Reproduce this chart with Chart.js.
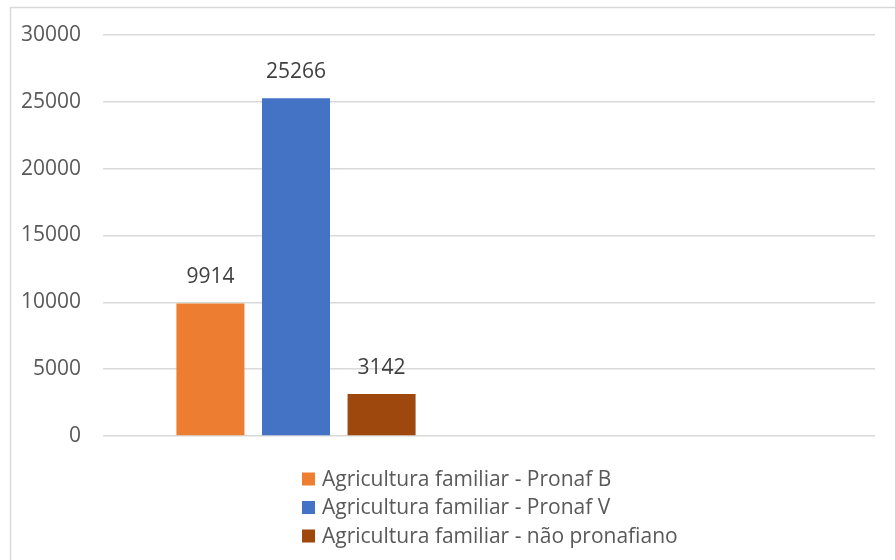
<!DOCTYPE html>
<html>
<head>
<meta charset="utf-8">
<script src="https://cdn.jsdelivr.net/npm/chart.js@4/dist/chart.umd.min.js"></script>
<style>
  html, body { margin: 0; padding: 0; background: #ffffff; }
  #wrap { width: 895px; height: 560px; position: relative; }
</style>
</head>
<body>
<div id="wrap"><canvas id="c" width="895" height="560"></canvas></div>
<script>
// Categories (second one is an empty slot, as in the source sheet)
const categories = ['', ''];
const seriesNames = [
  'Agricultura familiar - Pronaf B',
  'Agricultura familiar - Pronaf V',
  'Agricultura familiar - não pronafiano'
];
const pronafB = [9914, null];
const pronafV = [25266, null];
const naoPronafiano = [3142, null];
const seriesColors = ['#ED7D31', '#4472C4', '#9E480E'];
const yTicks = [0, 5000, 10000, 15000, 20000, 25000, 30000];

const FONT = '"Open Sans", "DejaVu Sans", sans-serif';
const TEXT = '#595959';

// Light frame around the chart
const framePlugin = {
  id: 'frame',
  beforeDraw(chart) {
    const ctx = chart.ctx;
    ctx.save();
    ctx.fillStyle = '#ffffff';
    ctx.fillRect(0, 0, chart.width, chart.height);
    ctx.strokeStyle = '#d9d9d9';
    ctx.lineWidth = 1.5;
    ctx.strokeRect(10.5, 7.5, chart.width + 20, chart.height + 20);
    ctx.restore();
  }
};

// Value labels above each bar
const valueLabels = {
  id: 'valueLabels',
  afterDatasetsDraw(chart) {
    const ctx = chart.ctx;
    ctx.save();
    ctx.font = '21px ' + FONT;
    ctx.fillStyle = '#404040';
    ctx.textAlign = 'center';
    ctx.textBaseline = 'middle';
    chart.data.datasets.forEach((ds, i) => {
      const meta = chart.getDatasetMeta(i);
      meta.data.forEach((bar, j) => {
        const v = ds.data[j];
        if (v == null) return;
        ctx.fillText(String(v), bar.x, bar.y - 26);
      });
    });
    ctx.restore();
  }
};

// Vertical legend under the plot
const stackedLegend = {
  id: 'stackedLegend',
  afterDraw(chart) {
    const ctx = chart.ctx;
    ctx.save();
    ctx.font = '21px ' + FONT;
    ctx.textBaseline = 'middle';
    ctx.textAlign = 'left';
    const x0 = 302, y0 = 479, step = 28.5;
    chart.data.datasets.forEach((ds, i) => {
      const y = y0 + i * step;
      ctx.fillStyle = ds.backgroundColor;
      ctx.fillRect(x0, y - 6.5, 13, 13);
      ctx.fillStyle = TEXT;
      ctx.fillText(ds.label, x0 + 20, y + 1);
    });
    ctx.restore();
  }
};

const datasets = [pronafB, pronafV, naoPronafiano].map((d, i) => ({
  label: seriesNames[i],
  data: d,
  backgroundColor: seriesColors[i],
  borderWidth: 0,
  categoryPercentage: 0.665,
  barPercentage: 0.795
}));

new Chart(document.getElementById('c'), {
  type: 'bar',
  data: { labels: categories, datasets },
  options: {
    responsive: false,
    animation: false,
    layout: { padding: { left: 0, top: 35, right: 20, bottom: 124 } },
    plugins: {
      legend: { display: false },
      tooltip: { enabled: false }
    },
    scales: {
      x: { display: false },
      y: {
        min: 0,
        max: 30000,
        afterBuildTicks(scale) {
          scale.ticks = yTicks.map(v => ({ value: v }));
        },
        afterFit(scale) { scale.width = 103; },
        border: { display: false },
        grid: { color: '#d9d9d9', lineWidth: 1.5, drawTicks: false },
        ticks: {
          padding: 22,
          color: TEXT,
          font: { family: FONT, size: 21 },
          callback: v => String(v)
        }
      }
    }
  },
  plugins: [framePlugin, valueLabels, stackedLegend]
});
</script>
</body>
</html>
